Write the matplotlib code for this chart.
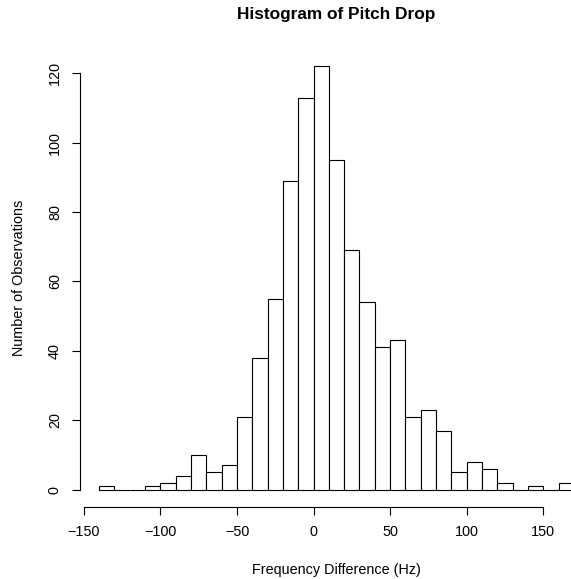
import numpy as np
import matplotlib
matplotlib.use("Agg")
import matplotlib.pyplot as plt

plt.rcParams["font.family"] = ["Liberation Sans", "DejaVu Sans"]

# histogram bins (Hz), width 10
bin_edges = list(range(-140, 171, 10))
counts = [1, 0, 0, 1, 2, 4, 10, 5, 7, 21, 38, 55, 89, 113,
          122, 95, 69, 54, 41, 43, 21, 23, 17, 5, 8, 6, 2, 0, 1, 0, 2]
x_ticks = [-150, -100, -50, 0, 50, 100, 150]
x_tick_labels = ["\u2212150", "\u2212100", "\u221250", "0", "50", "100", "150"]
y_ticks = [0, 20, 40, 60, 80, 100, 120]

W, H = 571, 579
fig = plt.figure(figsize=(W / 100, H / 100), dpi=100)

# plot region in pixels (R style, extends past right edge)
left, right, top, bottom = 80, 593, 49.5, 506.5
ax = fig.add_axes([left / W, 1 - bottom / H, (right - left) / W, (bottom - top) / H])

lefts = np.array(bin_edges[:-1])
widths = np.diff(bin_edges)
ax.bar(lefts, counts, width=widths, align="edge", facecolor="white",
       edgecolor="black", linewidth=0.8)

ax.set_xlim(-152.4, 182.4)
ax.set_ylim(-4.88, 126.88)

for s in ["top", "right"]:
    ax.spines[s].set_visible(False)
ax.spines["bottom"].set_bounds(-150, 150)
ax.spines["left"].set_bounds(0, 120)
for s in ["bottom", "left"]:
    ax.spines[s].set_linewidth(0.8)

ax.set_xticks(x_ticks)
ax.set_xticklabels(x_tick_labels)
ax.set_yticks(y_ticks)
ax.set_yticklabels([str(v) for v in y_ticks], rotation=90, va="center")
ax.tick_params(axis="both", length=6, width=0.8, labelsize=10.4, pad=7)

fig.text(336.5 / W, 1 - 14.5 / H, "Histogram of Pitch Drop", ha="center",
         va="center", fontsize=12.4, fontweight="bold")
fig.text(336.5 / W, 1 - 570 / H, "Frequency Difference (Hz)", ha="center",
         va="center", fontsize=10.4)
fig.text(19 / W, 1 - 278 / H, "Number of Observations", ha="center",
         va="center", rotation=90, fontsize=10.4)

fig.savefig("out.png", dpi=100)
